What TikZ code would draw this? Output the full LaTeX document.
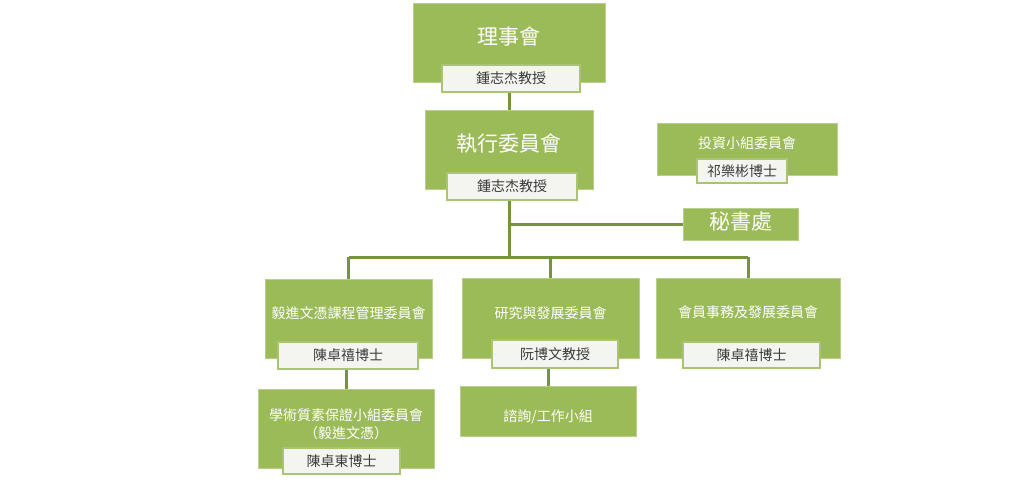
\documentclass[tikz,border=0pt]{standalone}
\usepackage{fontspec}
\newfontfamily\cjk{Noto Sans CJK TC}
\definecolor{boxgreen}{HTML}{9BBB59}
\definecolor{linkgreen}{HTML}{77933C}
\definecolor{tagfill}{HTML}{F4F5F0}
\definecolor{tagtext}{HTML}{3A3A3A}
\tikzset{
  unit/.style={fill=boxgreen, draw=boxgreen!70!white, line width=0.8pt, inner sep=0pt},
  bighead/.style={text=white, font=\cjk\fontsize{21}{24}\selectfont, inner sep=0pt},
  head/.style={text=white, font=\cjk\fontsize{14}{18}\selectfont, inner sep=0pt, align=center},
  chair/.style={fill=tagfill, draw=boxgreen!85!white, line width=1.5pt, text=tagtext,
    font=\cjk\fontsize{14}{16}\selectfont, inner sep=0pt},
  link/.style={draw=linkgreen, line width=3pt}
}
\begin{document}
\begin{tikzpicture}[x=1pt,y=-1pt]
\useasboundingbox (0,0) rectangle (1024,500);
% top of the tree
\node[unit, minimum width=192pt, minimum height=79pt] (board) at (509,42.5) {};
\node[bighead] (boardT) at (509,37) {理事會};
\node[chair, minimum width=138pt, minimum height=27pt] (boardC) at (511,78.5) {鍾志杰教授};
\node[unit, minimum width=168pt, minimum height=79pt] (exec) at (509,149.5) {};
\node[bighead] (execT) at (509,144) {執行委員會};
\node[chair, minimum width=130pt, minimum height=27pt] (execC) at (512,186.5) {鍾志杰教授};
% side boxes
\node[unit, minimum width=180pt, minimum height=52pt] (invest) at (747,149) {};
\node[head] (investT) at (747,143) {投資小組委員會};
\node[chair, minimum width=90pt, minimum height=24pt] (investC) at (742,171) {祁樂彬博士};
\node[unit, minimum width=115pt, minimum height=32pt] (sec) at (740.5,224) {};
\node[bighead] (secT) at (740.5,222) {秘書處};
% committees
\node[unit, minimum width=167pt, minimum height=79pt] (cmteA) at (348.5,318.5) {};
\node[head] (cmteAT) at (348.5,313) {毅進文憑課程管理委員會};
\node[chair, minimum width=140pt, minimum height=27pt] (cmteAC) at (348,355.5) {陳卓禧博士};
\node[unit, minimum width=177pt, minimum height=80pt] (cmteB) at (550.5,318) {};
\node[head] (cmteBT) at (550.5,313) {研究與發展委員會};
\node[chair, minimum width=126pt, minimum height=28pt] (cmteBC) at (555,354) {阮博文教授};
\node[unit, minimum width=184pt, minimum height=80pt] (cmteC) at (748,318) {};
\node[head] (cmteCT) at (748,312) {會員事務及發展委員會};
\node[chair, minimum width=137pt, minimum height=26pt] (cmteCC) at (751.5,355) {陳卓禧博士};
% lower level
\node[unit, minimum width=176pt, minimum height=79pt] (qa) at (346,428.5) {};
\node[head] (qaT) at (346,424) {學術質素保證小組委員會\\（毅進文憑）};
\node[chair, minimum width=117pt, minimum height=26pt] (qaC) at (341.5,461) {陳卓東博士};
\node[unit, minimum width=176pt, minimum height=50pt] (adv) at (548,411) {};
\node[head] (advT) at (548,417) {諮詢/工作小組};
% connectors
\coordinate (hub) at (509,257);
\draw[link] (board.south |- boardC.south) -- (exec.north);
\draw[link] (exec.south |- execC.south) -- (hub);
\draw[link] (exec.south |- sec.west) -- (sec.west);
\draw[link] (cmteA.north |- hub) -- (cmteC.north |- hub);
\foreach \n in {cmteA,cmteB,cmteC} % drops to the committees
\draw[link] (\n.north |- hub) -- (\n.north);
\draw[link] (qa.north |- cmteAC.south) -- (qa.north);
\draw[link] (adv.north |- cmteBC.south) -- (adv.north);
\end{tikzpicture}
\end{document}
